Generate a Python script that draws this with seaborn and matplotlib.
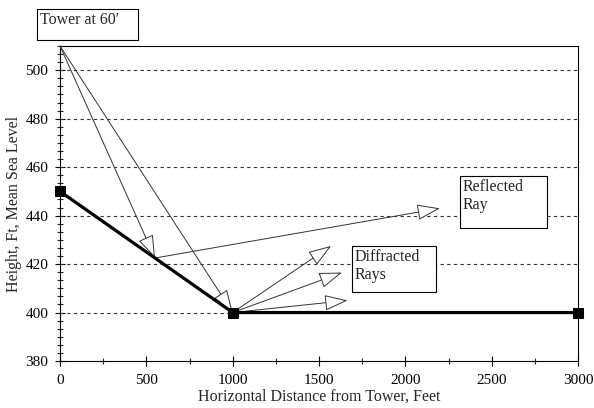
import matplotlib
matplotlib.use("Agg")
import matplotlib.pyplot as plt
from matplotlib.ticker import AutoMinorLocator
from matplotlib.patches import Rectangle
import seaborn as sns
import pandas as pd

# ground profile
ground_x = [0, 1000, 3000]
ground_y = [450, 400, 400]

# tower top and ray geometry
tower = (0, 510)
reflect_pt = (550, 422.5)
diffract_pt = (1000, 400)
reflected_tip = (2200, 443)
diffracted_tips = [(1570, 427.5), (1633, 416.5), (1665, 405)]

xticks = [0, 500, 1000, 1500, 2000, 2500, 3000]
yticks = [380, 400, 420, 440, 460, 480, 500]

sns.set_theme(style="white")
plt.rcParams['font.family'] = ['Liberation Serif', 'DejaVu Serif']

fig = plt.figure(figsize=(5.94, 4.08), dpi=100)
ax = fig.add_axes([60/594, 1-361/408, 518/594, 315/408])

df = pd.DataFrame({"x": ground_x, "y": ground_y})
sns.lineplot(data=df, x="x", y="y", ax=ax, color="black", lw=2.3,
             marker="s", markersize=6.5, markeredgecolor="black", zorder=5,
             clip_on=False)

ax.set_xlim(0, 3000)
ax.set_ylim(380, 510)
ax.set_xticks(xticks)
ax.set_yticks(yticks)
ax.xaxis.set_minor_locator(AutoMinorLocator(2))
ax.yaxis.set_minor_locator(AutoMinorLocator(6))
ax.tick_params(axis="both", which="major", direction="inout", length=7, width=0.8,
               labelsize=11, colors="black")
ax.tick_params(axis="x", which="major", pad=6)
ax.tick_params(axis="y", which="major", pad=5)
ax.tick_params(axis="both", which="minor", direction="inout", length=5, width=0.8)
ax.tick_params(axis="y", which="both", left=True)
ax.tick_params(axis="x", which="both", bottom=True)
for s in ax.spines.values():
    s.set_color("black")
    s.set_linewidth(0.8)

for yv in [400, 420, 440, 460, 480, 500]:
    ax.axhline(yv, color="#333333", lw=0.8, ls=(0, (3, 3)), zorder=1)

ax.set_xlabel("Horizontal Distance from Tower, Feet", fontsize=11.5, labelpad=1)
ax.set_ylabel("Height, Ft, Mean Sea Level", fontsize=11.5, labelpad=4)
ax.yaxis.set_label_coords(-38/518, 0.5)

ray_c = "#333333"
def ray(start, end):
    ax.annotate("", xy=end, xytext=start, xycoords="data", textcoords="data",
                arrowprops=dict(arrowstyle="-|>,head_length=1.45,head_width=0.5",
                                mutation_scale=10, fc="white", ec=ray_c, lw=0.7,
                                shrinkA=0, shrinkB=0), zorder=4)

ray(tower, reflect_pt)
ray(tower, diffract_pt)
ray(reflect_pt, reflected_tip)
for t in diffracted_tips:
    ray(diffract_pt, t)

def box(x0, y0, x1, y1, text):
    W, H = 594, 408
    r = Rectangle((x0/W, 1-y1/H), (x1-x0)/W, (y1-y0)/H, transform=fig.transFigure,
                  fc="white", ec="black", lw=0.8, zorder=10)
    fig.patches.append(r)
    fig.text((x0+3)/W, 1-(y0+3)/H, text, ha="left", va="top", fontsize=11.5,
             linespacing=1.15, zorder=11)

box(37, 9, 138, 40, "Tower at 60\u2032")
box(460, 176, 547, 228, "Reflected\nRay")
box(352, 246, 436, 292, "Diffracted\nRays")

fig.savefig("out.png", dpi=100)
